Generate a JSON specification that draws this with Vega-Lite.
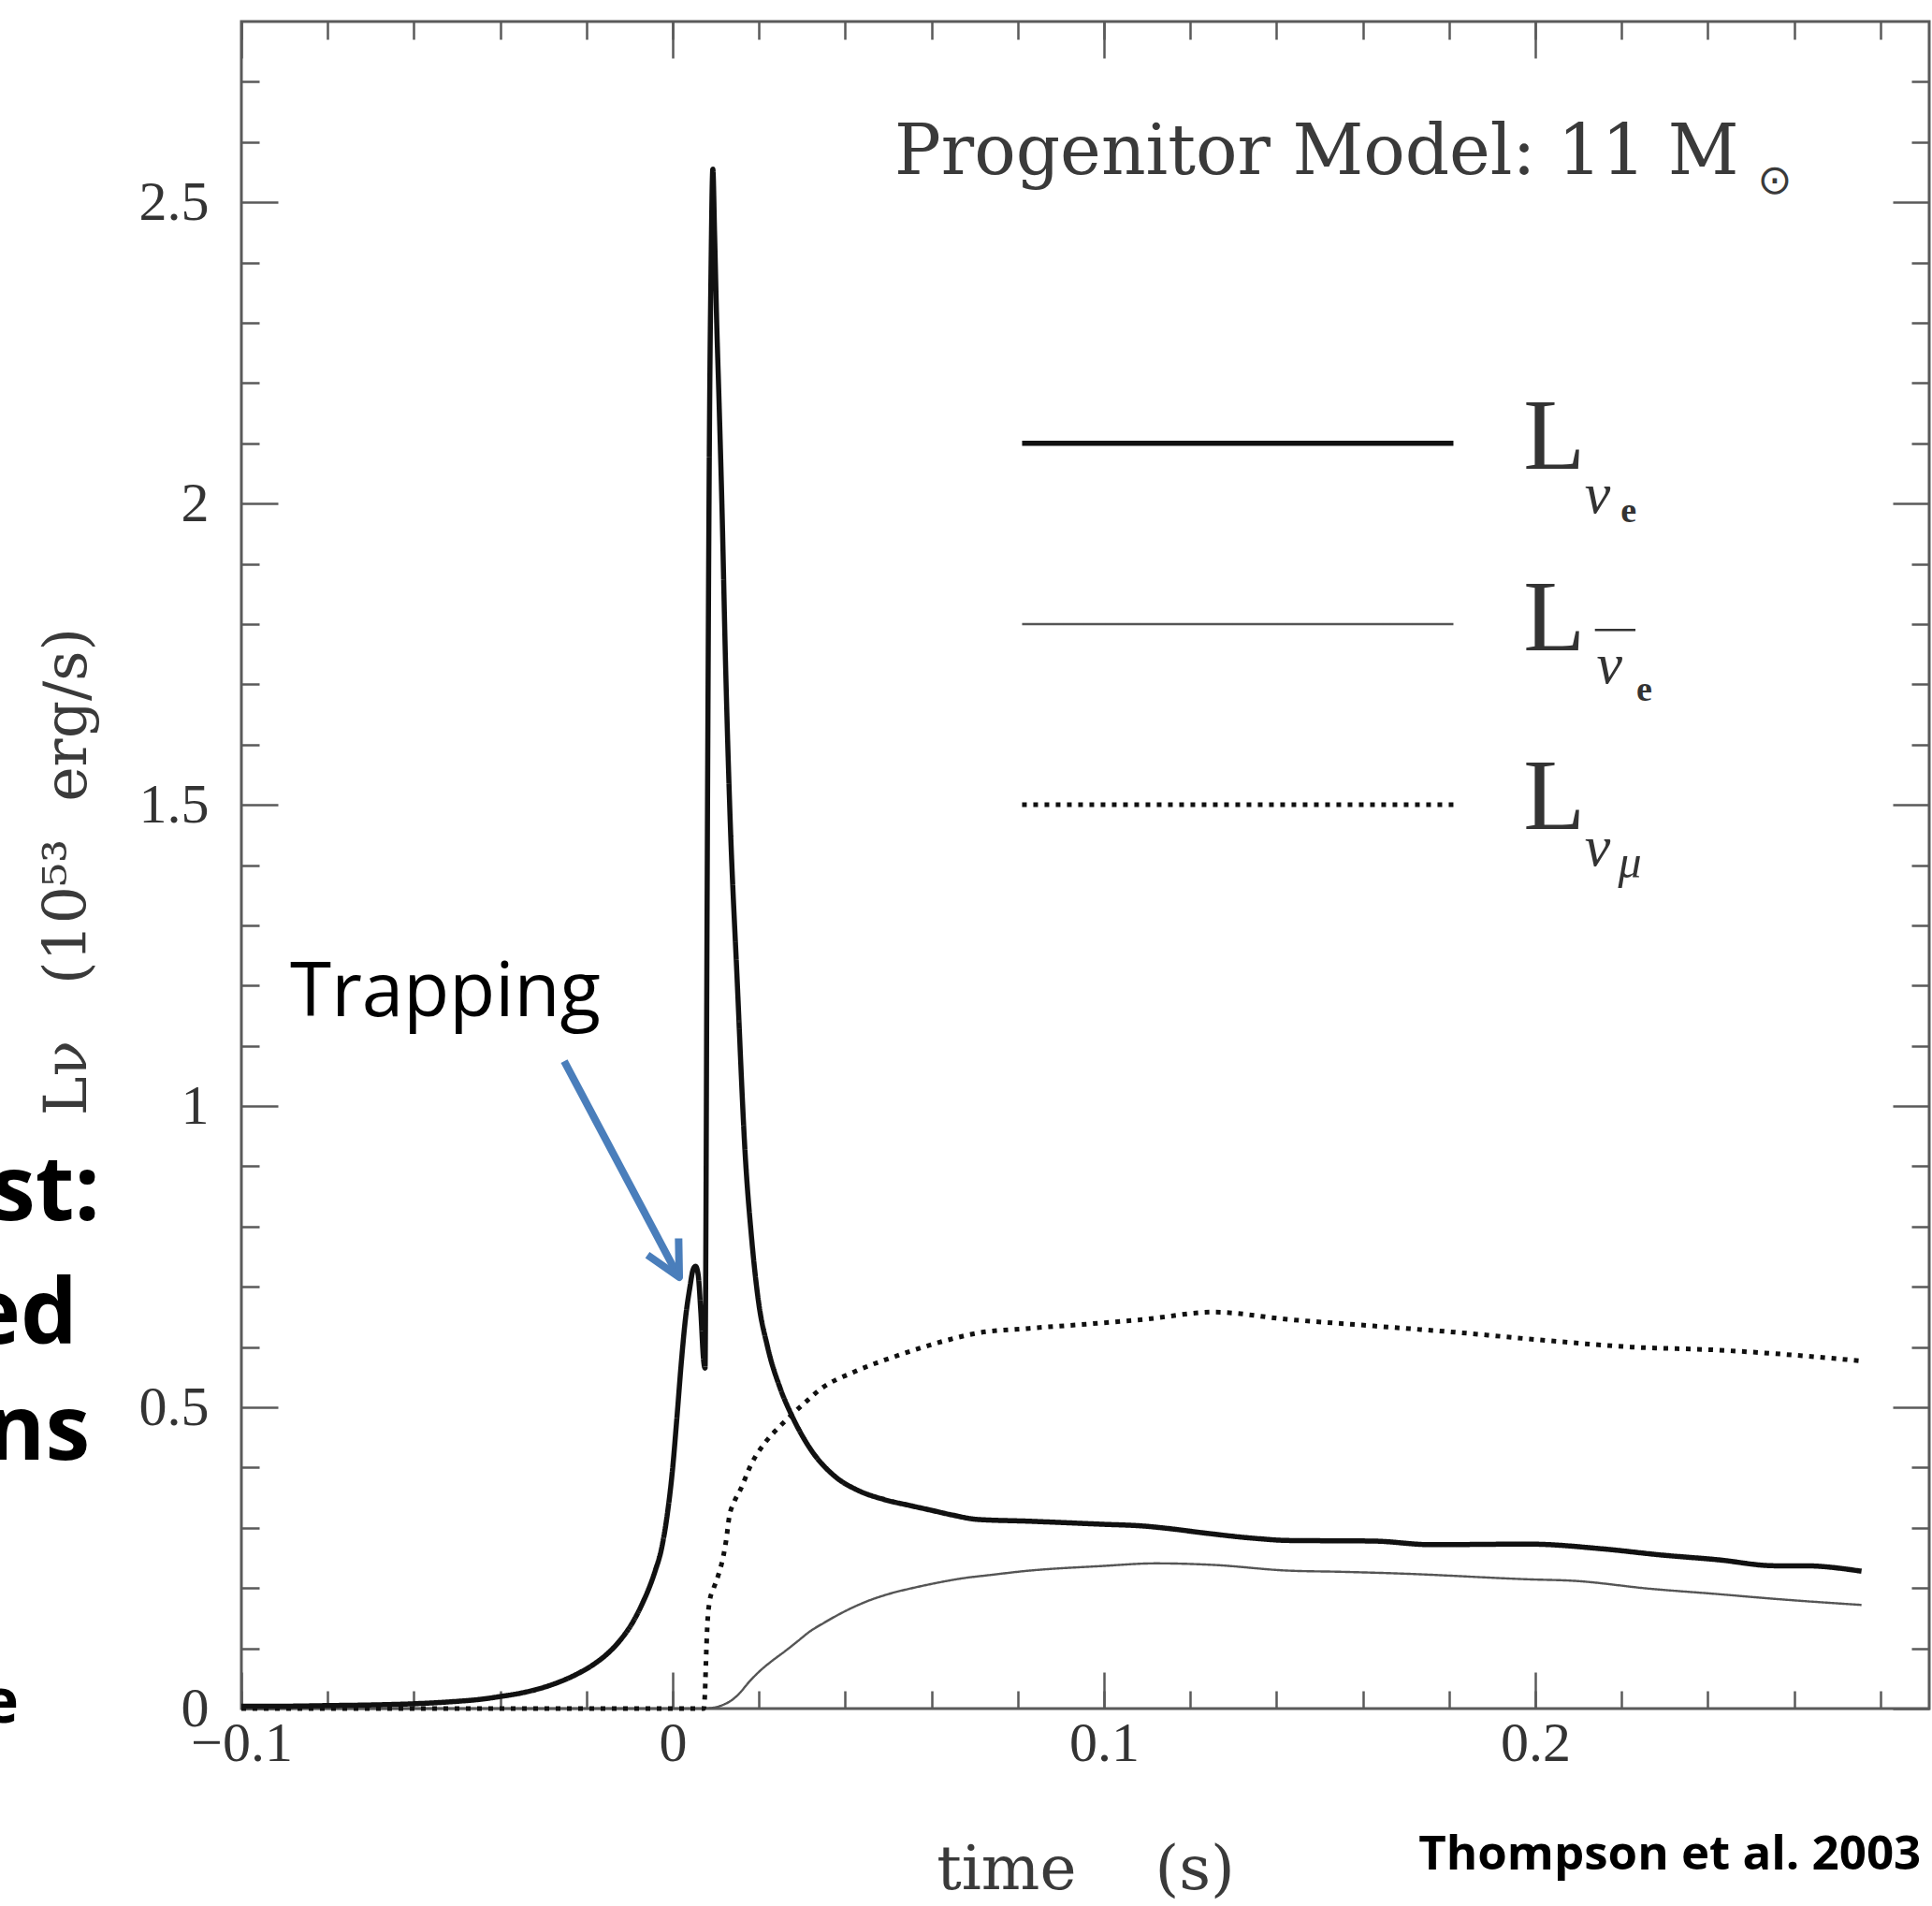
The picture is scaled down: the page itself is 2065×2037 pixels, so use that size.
{
  "$schema": "https://vega.github.io/schema/vega-lite/v6.json",
  "width": 1804,
  "height": 1803,
  "autosize": {"type": "none"},
  "padding": {"left": 258, "top": 23, "right": 3, "bottom": 211},
  "background": "white",
  "config": {
    "view": {"stroke": "#5a5a5a", "strokeWidth": 3},
    "axis": {
      "grid": false, "domain": false,
      "tickColor": "#5a5a5a", "tickWidth": 2.5,
      "labelColor": "#333333", "titleColor": "#3a3a3a",
      "labelFont": "Liberation Serif", "titleFont": "DejaVu Serif",
      "labelFontSize": 60, "titleFontSize": 66, "titleFontWeight": "normal",
      "labelFlush": false, "labelOverlap": false, "format": "~g"
    }
  },
  "resolve": {"axis": {"x": "independent", "y": "independent"}},
  "datasets": {
    "curves": [
      {"series": "nuebar", "t": -0.1, "L": 0.0},
      {"series": "nuebar", "t": 0.006, "L": 0.0},
      {"series": "nuebar", "t": 0.009, "L": 0.001},
      {"series": "nuebar", "t": 0.0116, "L": 0.006},
      {"series": "nuebar", "t": 0.0135, "L": 0.013},
      {"series": "nuebar", "t": 0.0153, "L": 0.024},
      {"series": "nuebar", "t": 0.0178, "L": 0.045},
      {"series": "nuebar", "t": 0.0203, "L": 0.063},
      {"series": "nuebar", "t": 0.023, "L": 0.079},
      {"series": "nuebar", "t": 0.026, "L": 0.095},
      {"series": "nuebar", "t": 0.029, "L": 0.112},
      {"series": "nuebar", "t": 0.0318, "L": 0.128},
      {"series": "nuebar", "t": 0.035, "L": 0.142},
      {"series": "nuebar", "t": 0.0382, "L": 0.155},
      {"series": "nuebar", "t": 0.0418, "L": 0.168},
      {"series": "nuebar", "t": 0.0454, "L": 0.179},
      {"series": "nuebar", "t": 0.05, "L": 0.19},
      {"series": "nuebar", "t": 0.0562, "L": 0.201},
      {"series": "nuebar", "t": 0.0615, "L": 0.209},
      {"series": "nuebar", "t": 0.067, "L": 0.216},
      {"series": "nuebar", "t": 0.074, "L": 0.222},
      {"series": "nuebar", "t": 0.0813, "L": 0.228},
      {"series": "nuebar", "t": 0.0993, "L": 0.2365},
      {"series": "nuebar", "t": 0.112, "L": 0.241},
      {"series": "nuebar", "t": 0.1252, "L": 0.2385},
      {"series": "nuebar", "t": 0.1425, "L": 0.229},
      {"series": "nuebar", "t": 0.155, "L": 0.227},
      {"series": "nuebar", "t": 0.1692, "L": 0.224},
      {"series": "nuebar", "t": 0.1984, "L": 0.2145},
      {"series": "nuebar", "t": 0.209, "L": 0.212},
      {"series": "nuebar", "t": 0.2264, "L": 0.199},
      {"series": "nuebar", "t": 0.2423, "L": 0.19},
      {"series": "nuebar", "t": 0.2556, "L": 0.182},
      {"series": "nuebar", "t": 0.2756, "L": 0.172},
      {"series": "numu", "t": -0.1, "L": 0.0},
      {"series": "numu", "t": 0.0072, "L": 0.0},
      {"series": "numu", "t": 0.0075, "L": 0.03},
      {"series": "numu", "t": 0.0077, "L": 0.076},
      {"series": "numu", "t": 0.008, "L": 0.134},
      {"series": "numu", "t": 0.0086, "L": 0.18},
      {"series": "numu", "t": 0.0093, "L": 0.196},
      {"series": "numu", "t": 0.0106, "L": 0.222},
      {"series": "numu", "t": 0.0118, "L": 0.255},
      {"series": "numu", "t": 0.0124, "L": 0.28},
      {"series": "numu", "t": 0.0131, "L": 0.318},
      {"series": "numu", "t": 0.0142, "L": 0.342},
      {"series": "numu", "t": 0.0158, "L": 0.365},
      {"series": "numu", "t": 0.0181, "L": 0.404},
      {"series": "numu", "t": 0.0217, "L": 0.444},
      {"series": "numu", "t": 0.0245, "L": 0.466},
      {"series": "numu", "t": 0.0275, "L": 0.487},
      {"series": "numu", "t": 0.031, "L": 0.51},
      {"series": "numu", "t": 0.0346, "L": 0.532},
      {"series": "numu", "t": 0.0418, "L": 0.558},
      {"series": "numu", "t": 0.0526, "L": 0.587},
      {"series": "numu", "t": 0.0634, "L": 0.611},
      {"series": "numu", "t": 0.0705, "L": 0.623},
      {"series": "numu", "t": 0.0826, "L": 0.631},
      {"series": "numu", "t": 0.0959, "L": 0.638},
      {"series": "numu", "t": 0.1093, "L": 0.646},
      {"series": "numu", "t": 0.1254, "L": 0.658},
      {"series": "numu", "t": 0.1425, "L": 0.646},
      {"series": "numu", "t": 0.1625, "L": 0.635},
      {"series": "numu", "t": 0.1824, "L": 0.624},
      {"series": "numu", "t": 0.2024, "L": 0.611},
      {"series": "numu", "t": 0.2223, "L": 0.6},
      {"series": "numu", "t": 0.2423, "L": 0.595},
      {"series": "numu", "t": 0.2556, "L": 0.589},
      {"series": "numu", "t": 0.2756, "L": 0.577},
      {"series": "nue", "t": -0.1, "L": 0.004},
      {"series": "nue", "t": -0.09, "L": 0.004},
      {"series": "nue", "t": -0.08, "L": 0.005},
      {"series": "nue", "t": -0.07, "L": 0.006},
      {"series": "nue", "t": -0.06, "L": 0.008},
      {"series": "nue", "t": -0.05, "L": 0.012},
      {"series": "nue", "t": -0.045, "L": 0.015},
      {"series": "nue", "t": -0.04, "L": 0.02},
      {"series": "nue", "t": -0.035, "L": 0.026},
      {"series": "nue", "t": -0.03, "L": 0.035},
      {"series": "nue", "t": -0.026, "L": 0.045},
      {"series": "nue", "t": -0.022, "L": 0.058},
      {"series": "nue", "t": -0.018, "L": 0.075},
      {"series": "nue", "t": -0.015, "L": 0.092},
      {"series": "nue", "t": -0.012, "L": 0.115},
      {"series": "nue", "t": -0.0092, "L": 0.144},
      {"series": "nue", "t": -0.007, "L": 0.175},
      {"series": "nue", "t": -0.0056, "L": 0.198},
      {"series": "nue", "t": -0.004, "L": 0.23},
      {"series": "nue", "t": -0.0027, "L": 0.262},
      {"series": "nue", "t": -0.0013, "L": 0.32},
      {"series": "nue", "t": 0.0, "L": 0.4},
      {"series": "nue", "t": 0.001, "L": 0.485},
      {"series": "nue", "t": 0.002, "L": 0.575},
      {"series": "nue", "t": 0.003, "L": 0.65},
      {"series": "nue", "t": 0.004, "L": 0.7},
      {"series": "nue", "t": 0.0047, "L": 0.728},
      {"series": "nue", "t": 0.0053, "L": 0.734},
      {"series": "nue", "t": 0.0059, "L": 0.72},
      {"series": "nue", "t": 0.0065, "L": 0.66},
      {"series": "nue", "t": 0.0072, "L": 0.575},
      {"series": "nue", "t": 0.0075, "L": 0.565},
      {"series": "nue", "t": 0.0077, "L": 0.8},
      {"series": "nue", "t": 0.0079, "L": 1.2},
      {"series": "nue", "t": 0.0082, "L": 1.7},
      {"series": "nue", "t": 0.0085, "L": 2.1},
      {"series": "nue", "t": 0.0089, "L": 2.4},
      {"series": "nue", "t": 0.0093, "L": 2.555},
      {"series": "nue", "t": 0.0097, "L": 2.45},
      {"series": "nue", "t": 0.0102, "L": 2.3},
      {"series": "nue", "t": 0.0107, "L": 2.18},
      {"series": "nue", "t": 0.0114, "L": 2.0},
      {"series": "nue", "t": 0.0123, "L": 1.72},
      {"series": "nue", "t": 0.0132, "L": 1.5},
      {"series": "nue", "t": 0.015, "L": 1.2},
      {"series": "nue", "t": 0.0168, "L": 0.92},
      {"series": "nue", "t": 0.0183, "L": 0.78},
      {"series": "nue", "t": 0.0198, "L": 0.68},
      {"series": "nue", "t": 0.022, "L": 0.6},
      {"series": "nue", "t": 0.025, "L": 0.53},
      {"series": "nue", "t": 0.0277, "L": 0.485},
      {"series": "nue", "t": 0.032, "L": 0.43},
      {"series": "nue", "t": 0.0375, "L": 0.386},
      {"series": "nue", "t": 0.043, "L": 0.362},
      {"series": "nue", "t": 0.049, "L": 0.347},
      {"series": "nue", "t": 0.055, "L": 0.337},
      {"series": "nue", "t": 0.06, "L": 0.329},
      {"series": "nue", "t": 0.065, "L": 0.321},
      {"series": "nue", "t": 0.0705, "L": 0.314},
      {"series": "nue", "t": 0.0824, "L": 0.311},
      {"series": "nue", "t": 0.0993, "L": 0.306},
      {"series": "nue", "t": 0.109, "L": 0.303},
      {"series": "nue", "t": 0.116, "L": 0.298},
      {"series": "nue", "t": 0.1226, "L": 0.292},
      {"series": "nue", "t": 0.1358, "L": 0.282},
      {"series": "nue", "t": 0.1425, "L": 0.279},
      {"series": "nue", "t": 0.1625, "L": 0.278},
      {"series": "nue", "t": 0.1758, "L": 0.272},
      {"series": "nue", "t": 0.1984, "L": 0.273},
      {"series": "nue", "t": 0.2157, "L": 0.265},
      {"series": "nue", "t": 0.229, "L": 0.255},
      {"series": "nue", "t": 0.2423, "L": 0.247},
      {"series": "nue", "t": 0.2556, "L": 0.237},
      {"series": "nue", "t": 0.2623, "L": 0.237},
      {"series": "nue", "t": 0.2756, "L": 0.228}
    ],
    "legendLines": [
      {"series": "nue", "t": 0.081, "t2": 0.181, "L": 2.1},
      {"series": "nuebar", "t": 0.081, "t2": 0.181, "L": 1.8},
      {"series": "numu", "t": 0.081, "t2": 0.181, "L": 1.5}
    ],
    "legendL": [
      {"text": "L", "t": 0.1972, "L": 2.057},
      {"text": "L", "t": 0.1972, "L": 1.756},
      {"text": "L", "t": 0.1972, "L": 1.4596}
    ],
    "legendNu": [
      {"text": "ν", "t": 0.2114, "L": 1.984},
      {"text": "ν", "t": 0.2142, "L": 1.702},
      {"text": "ν", "t": 0.2114, "L": 1.399}
    ],
    "legendE": [
      {"text": "e", "t": 0.2198, "L": 1.969},
      {"text": "e", "t": 0.2234, "L": 1.672}
    ],
    "legendMu": [{"text": "μ", "t": 0.2192, "L": 1.379}],
    "legendBar": [{"t": 0.2138, "t2": 0.2232, "L": 1.79}],
    "title": [{"text": "Progenitor Model: 11 M", "t": 0.0514, "L": 2.547}],
    "sun": [{"text": "⊙", "t": 0.2515, "L": 2.515}],
    "trapping": [{"text": "Trapping", "t": -0.0887, "L": 1.149}],
    "arrow": [{"t": -0.02516, "L": 1.0745, "t2": 0.00108, "L2": 0.7205}],
    "arrowHead": [{"t": 0.00152, "L": 0.7158}],
    "slideBig": [
      {"text": "st:", "t": -0.1328, "L": 0.8106},
      {"text": "ed", "t": -0.138, "L": 0.6056},
      {"text": "ns", "t": -0.1351, "L": 0.413}
    ],
    "slideSmall": [{"text": "e", "t": -0.1516, "L": -0.0233}],
    "credit": [{"text": "Thompson et al. 2003", "t": 0.2894, "L": -0.267}]
  },
  "layer": [
    {
      "data": {"name": "curves"},
      "mark": {"type": "line", "interpolate": "monotone", "strokeJoin": "round"},
      "encoding": {
        "x": {"field": "t", "type": "quantitative",
          "scale": {"domain": [-0.1, 0.2913], "nice": false, "zero": false},
          "axis": {"orient": "bottom", "values": [-0.1, 0, 0.1, 0.2], "ticks": false, "labelPadding": 8,
            "title": "time\u00a0\u00a0\u00a0\u00a0(s)", "titleX": 902, "titleY": 192, "titleBaseline": "alphabetic", "titleAlign": "center"}},
        "y": {"field": "L", "type": "quantitative",
          "scale": {"domain": [0, 2.8], "nice": false, "zero": false},
          "axis": {"orient": "left", "values": [0, 0.5, 1, 1.5, 2, 2.5], "ticks": false, "labelPadding": 35,
            "title": "Lν\u00a0\u00a0\u00a0(10⁵³\u00a0\u00a0erg/s)", "titleFontSize": 63, "titleX": -167, "titleY": 908, "titleAngle": 270, "titleBaseline": "alphabetic", "titleAlign": "center"}},
        "color": {"field": "series", "type": "nominal", "scale": {"domain": ["nue", "nuebar", "numu"], "range": ["#111111", "#555555", "#111111"]}, "legend": null},
        "strokeWidth": {"field": "series", "type": "nominal", "scale": {"type": "ordinal", "domain": ["nue", "nuebar", "numu"], "range": [5.5, 2.4, 5]}, "legend": null},
        "strokeDash": {"field": "series", "type": "nominal", "scale": {"domain": ["nue", "nuebar", "numu"], "range": [[1, 0], [1, 0], [5, 7]]}, "legend": null}
      }
    },
    {
      "data": {"name": "legendLines"},
      "mark": {"type": "rule"},
      "encoding": {
        "x": {"field": "t", "type": "quantitative", "scale": {"domain": [-0.1, 0.2913], "nice": false, "zero": false},
          "axis": {"orient": "bottom", "values": [-0.1, 0, 0.1, 0.2], "labels": false, "tickSize": -39, "title": null}},
        "x2": {"field": "t2"},
        "y": {"field": "L", "type": "quantitative", "scale": {"domain": [0, 2.8], "nice": false, "zero": false},
          "axis": {"orient": "left", "values": [0, 0.5, 1, 1.5, 2, 2.5], "labels": false, "tickSize": -39, "title": null}},
        "color": {"field": "series", "type": "nominal", "scale": {"domain": ["nue", "nuebar", "numu"], "range": ["#111111", "#555555", "#111111"]}, "legend": null},
        "strokeWidth": {"field": "series", "type": "nominal", "scale": {"type": "ordinal", "domain": ["nue", "nuebar", "numu"], "range": [5.5, 2.4, 5]}, "legend": null},
        "strokeDash": {"field": "series", "type": "nominal", "scale": {"domain": ["nue", "nuebar", "numu"], "range": [[1, 0], [1, 0], [5, 7]]}, "legend": null}
      }
    },
    {
      "data": {"name": "legendL"},
      "mark": {"type": "text", "font": "Liberation Serif", "fontSize": 108, "align": "left", "baseline": "alphabetic", "color": "#333333"},
      "encoding": {
        "x": {"field": "t", "type": "quantitative", "scale": {"domain": [-0.1, 0.2913], "nice": false, "zero": false},
          "axis": {"orient": "bottom", "values": [-0.1, -0.08, -0.06, -0.04, -0.02, 0, 0.02, 0.04, 0.06, 0.08, 0.1, 0.12, 0.14, 0.16, 0.18, 0.2, 0.22, 0.24, 0.26, 0.28], "labels": false, "tickSize": -19, "title": null}},
        "y": {"field": "L", "type": "quantitative", "scale": {"domain": [0, 2.8], "nice": false, "zero": false},
          "axis": {"orient": "left", "values": [0.1, 0.2, 0.3, 0.4, 0.6, 0.7, 0.8, 0.9, 1.1, 1.2, 1.3, 1.4, 1.6, 1.7, 1.8, 1.9, 2.1, 2.2, 2.3, 2.4, 2.6, 2.7], "labels": false, "tickSize": -19, "title": null}},
        "text": {"field": "text"}
      }
    },
    {
      "data": {"name": "trapping"},
      "mark": {"type": "text", "font": "Open Sans", "fontSize": 80, "align": "left", "baseline": "alphabetic", "color": "#000000"},
      "encoding": {
        "x": {"field": "t", "type": "quantitative", "scale": {"domain": [-0.1, 0.2913], "nice": false, "zero": false},
          "axis": {"orient": "top", "values": [-0.1, 0, 0.1, 0.2], "labels": false, "tickSize": -39, "title": null}},
        "y": {"field": "L", "type": "quantitative", "scale": {"domain": [0, 2.8], "nice": false, "zero": false},
          "axis": {"orient": "right", "values": [0, 0.5, 1, 1.5, 2, 2.5], "labels": false, "tickSize": -39, "title": null}},
        "text": {"field": "text"}
      }
    },
    {
      "data": {"name": "arrow"},
      "mark": {"type": "rule", "color": "#4A7EBB", "strokeWidth": 8},
      "encoding": {
        "x": {"field": "t", "type": "quantitative", "scale": {"domain": [-0.1, 0.2913], "nice": false, "zero": false},
          "axis": {"orient": "top", "values": [-0.1, -0.08, -0.06, -0.04, -0.02, 0, 0.02, 0.04, 0.06, 0.08, 0.1, 0.12, 0.14, 0.16, 0.18, 0.2, 0.22, 0.24, 0.26, 0.28], "labels": false, "tickSize": -19, "title": null}},
        "y": {"field": "L", "type": "quantitative", "scale": {"domain": [0, 2.8], "nice": false, "zero": false},
          "axis": {"orient": "right", "values": [0.1, 0.2, 0.3, 0.4, 0.6, 0.7, 0.8, 0.9, 1.1, 1.2, 1.3, 1.4, 1.6, 1.7, 1.8, 1.9, 2.1, 2.2, 2.3, 2.4, 2.6, 2.7], "labels": false, "tickSize": -19, "title": null}},
        "x2": {"field": "t2"},
        "y2": {"field": "L2"}
      }
    },
    {
      "data": {"name": "arrowHead"},
      "mark": {"type": "point", "shape": "M-0.51,-1L0,0L0.51,-1", "filled": false, "stroke": "#4A7EBB", "strokeWidth": 8, "size": 5476, "angle": 332, "strokeJoin": "round", "opacity": 1},
      "encoding": {
        "x": {"field": "t", "type": "quantitative", "scale": {"domain": [-0.1, 0.2913], "nice": false, "zero": false}, "axis": null},
        "y": {"field": "L", "type": "quantitative", "scale": {"domain": [0, 2.8], "nice": false, "zero": false}, "axis": null}
      }
    },
    {
      "data": {"name": "legendNu"},
      "mark": {"type": "text", "font": "Liberation Serif", "fontSize": 62, "fontStyle": "italic", "align": "left", "baseline": "alphabetic", "color": "#333333"},
      "encoding": {
        "x": {"field": "t", "type": "quantitative", "scale": {"domain": [-0.1, 0.2913], "nice": false, "zero": false}, "axis": null},
        "y": {"field": "L", "type": "quantitative", "scale": {"domain": [0, 2.8], "nice": false, "zero": false}, "axis": null},
        "text": {"field": "text"}
      }
    },
    {
      "data": {"name": "legendE"},
      "mark": {"type": "text", "font": "Liberation Serif", "fontSize": 38, "fontWeight": "bold", "align": "left", "baseline": "alphabetic", "color": "#333333"},
      "encoding": {
        "x": {"field": "t", "type": "quantitative", "scale": {"domain": [-0.1, 0.2913], "nice": false, "zero": false}, "axis": null},
        "y": {"field": "L", "type": "quantitative", "scale": {"domain": [0, 2.8], "nice": false, "zero": false}, "axis": null},
        "text": {"field": "text"}
      }
    },
    {
      "data": {"name": "legendMu"},
      "mark": {"type": "text", "font": "Liberation Serif", "fontSize": 50, "fontStyle": "italic", "align": "left", "baseline": "alphabetic", "color": "#333333"},
      "encoding": {
        "x": {"field": "t", "type": "quantitative", "scale": {"domain": [-0.1, 0.2913], "nice": false, "zero": false}, "axis": null},
        "y": {"field": "L", "type": "quantitative", "scale": {"domain": [0, 2.8], "nice": false, "zero": false}, "axis": null},
        "text": {"field": "text"}
      }
    },
    {
      "data": {"name": "legendBar"},
      "mark": {"type": "rule", "color": "#333333", "strokeWidth": 2.5},
      "encoding": {
        "x": {"field": "t", "type": "quantitative", "scale": {"domain": [-0.1, 0.2913], "nice": false, "zero": false}, "axis": null},
        "x2": {"field": "t2"},
        "y": {"field": "L", "type": "quantitative", "scale": {"domain": [0, 2.8], "nice": false, "zero": false}, "axis": null}
      }
    },
    {
      "data": {"name": "title"},
      "mark": {"type": "text", "font": "DejaVu Serif", "fontSize": 74, "align": "left", "baseline": "alphabetic", "color": "#3a3a3a"},
      "encoding": {
        "x": {"field": "t", "type": "quantitative", "scale": {"domain": [-0.1, 0.2913], "nice": false, "zero": false}, "axis": null},
        "y": {"field": "L", "type": "quantitative", "scale": {"domain": [0, 2.8], "nice": false, "zero": false}, "axis": null},
        "text": {"field": "text"}
      }
    },
    {
      "data": {"name": "sun"},
      "mark": {"type": "text", "font": "DejaVu Sans", "fontSize": 44, "align": "left", "baseline": "alphabetic", "color": "#3a3a3a"},
      "encoding": {
        "x": {"field": "t", "type": "quantitative", "scale": {"domain": [-0.1, 0.2913], "nice": false, "zero": false}, "axis": null},
        "y": {"field": "L", "type": "quantitative", "scale": {"domain": [0, 2.8], "nice": false, "zero": false}, "axis": null},
        "text": {"field": "text"}
      }
    },
    {
      "data": {"name": "slideBig"},
      "mark": {"type": "text", "font": "Open Sans", "fontWeight": "bold", "fontSize": 96, "align": "right", "baseline": "alphabetic", "color": "#000000"},
      "encoding": {
        "x": {"field": "t", "type": "quantitative", "scale": {"domain": [-0.1, 0.2913], "nice": false, "zero": false}, "axis": null},
        "y": {"field": "L", "type": "quantitative", "scale": {"domain": [0, 2.8], "nice": false, "zero": false}, "axis": null},
        "text": {"field": "text"}
      }
    },
    {
      "data": {"name": "slideSmall"},
      "mark": {"type": "text", "font": "Open Sans", "fontWeight": "bold", "fontSize": 66, "align": "right", "baseline": "alphabetic", "color": "#000000"},
      "encoding": {
        "x": {"field": "t", "type": "quantitative", "scale": {"domain": [-0.1, 0.2913], "nice": false, "zero": false}, "axis": null},
        "y": {"field": "L", "type": "quantitative", "scale": {"domain": [0, 2.8], "nice": false, "zero": false}, "axis": null},
        "text": {"field": "text"}
      }
    },
    {
      "data": {"name": "credit"},
      "mark": {"type": "text", "font": "Open Sans", "fontWeight": "bold", "fontSize": 51, "align": "right", "baseline": "alphabetic", "color": "#000000"},
      "encoding": {
        "x": {"field": "t", "type": "quantitative", "scale": {"domain": [-0.1, 0.2913], "nice": false, "zero": false}, "axis": null},
        "y": {"field": "L", "type": "quantitative", "scale": {"domain": [0, 2.8], "nice": false, "zero": false}, "axis": null},
        "text": {"field": "text"}
      }
    }
  ]
}
